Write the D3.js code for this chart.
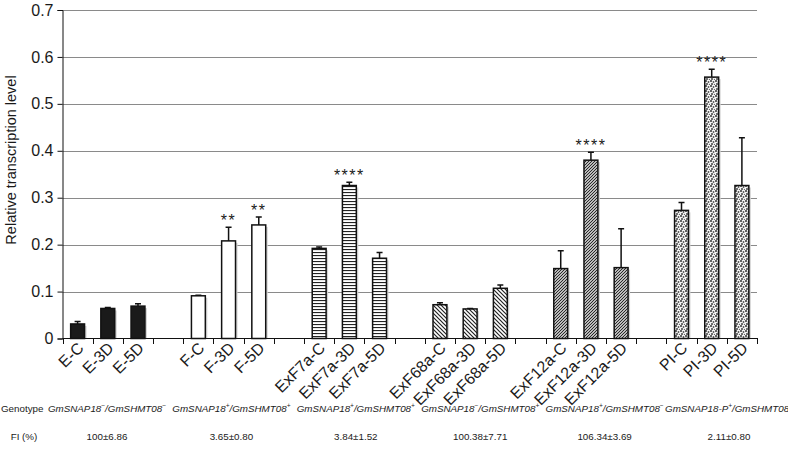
<!DOCTYPE html>
<html>
<head>
<meta charset="utf-8">
<script src="https://cdn.jsdelivr.net/npm/d3@7"></script>
<style>
  body { margin: 0; background: #fff; }
  svg text { font-family: "Liberation Sans", Arial, sans-serif; fill: #1a1a1a; }
</style>
</head>
<body>
<svg id="chart" width="788" height="467"></svg>
<script>
// categorias no eixo x ("" = espaço entre grupos)
const categorias = ["E-C","E-3D","E-5D","",
                    "F-C","F-3D","F-5D","",
                    "ExF7a-C","ExF7a-3D","ExF7a-5D","",
                    "ExF68a-C","ExF68a-3D","ExF68a-5D","",
                    "ExF12a-C","ExF12a-3D","ExF12a-5D","",
                    "PI-C","PI-3D","PI-5D"];
const valores = [0.031,0.064,0.069,null,
                 0.091,0.208,0.242,null,
                 0.192,0.326,0.171,null,
                 0.072,0.063,0.107,null,
                 0.149,0.380,0.151,null,
                 0.273,0.557,0.326];
const erros = [0.005,0.002,0.005,null,
               0.001,0.029,0.017,null,
               0.003,0.007,0.012,null,
               0.004,0.001,0.007,null,
               0.038,0.017,0.083,null,
               0.017,0.017,0.102];
const signif = ["","","","",
                "","**","**","",
                "","****","","",
                "","","","",
                "","****","","",
                "","****",""];
const yTicks = [0,0.1,0.2,0.3,0.4,0.5,0.6,0.7];

// tabela de baixo
const genotipos = [["GmSNAP18","−","GmSHMT08","−"],
                   ["GmSNAP18","+","GmSHMT08","+"],
                   ["GmSNAP18","+","GmSHMT08","+"],
                   ["GmSNAP18","−","GmSHMT08","+"],
                   ["GmSNAP18","+","GmSHMT08","−"],
                   ["GmSNAP18-P","+","GmSHMT08","−"]];
const fi = ["100±6.86","3.65±0.80","3.84±1.52","100.38±7.71","106.34±3.69","2.11±0.80"];

const svg = d3.select("#chart");
const defs = svg.append("defs");

// padrões de preenchimento de cada grupo
function padrao(id, w, h, desenha) {
  const p = defs.append("pattern").attr("id", id)
    .attr("patternUnits", "userSpaceOnUse").attr("width", w).attr("height", h);
  p.append("rect").attr("width", w).attr("height", h).attr("fill", "#fff");
  desenha(p);
}
padrao("horiz", 4, 3, p => p.append("rect").attr("width", 4).attr("height", 1.1).attr("fill", "#222"));
padrao("back", 4, 4, p => p.append("path").attr("d", "M-1,-1 L5,5 M3,-1 L5,1 M-1,3 L1,5")
  .attr("stroke", "#222").attr("stroke-width", 1.2));
padrao("fwd", 3, 3, p => p.append("path").attr("d", "M-1,4 L4,-1 M-1,1 L1,-1 M2,4 L4,2")
  .attr("stroke", "#222").attr("stroke-width", 1.2));
padrao("dots", 5, 5, p => {
  p.select("rect").attr("fill", "#f4f4f4");
  p.append("circle").attr("cx", 1).attr("cy", 1).attr("r", 1).attr("fill", "#333");
  p.append("circle").attr("cx", 3.5).attr("cy", 2).attr("r", 0.9).attr("fill", "#555");
  p.append("circle").attr("cx", 2).attr("cy", 4).attr("r", 1).attr("fill", "#444");
  p.append("circle").attr("cx", 4.5).attr("cy", 4.5).attr("r", 0.7).attr("fill", "#666");
});
const preench = ["#1a1a1a", "#fff", "url(#horiz)", "url(#back)", "url(#fwd)", "url(#dots)"];

const y = d3.scaleLinear().domain([0, 0.7]).range([338.5, 10]);
const x = d3.scaleBand().domain(d3.range(categorias.length)).range([62.5, 757]);
const larguraBarra = x.bandwidth() * 0.46;

// grade
svg.append("g").selectAll("line")
  .data(yTicks.filter(d => d > 0))
  .join("line")
    .attr("x1", 62.5).attr("x2", 757)
    .attr("y1", d => Math.round(y(d)) + 0.5).attr("y2", d => Math.round(y(d)) + 0.5)
    .attr("stroke", "#8a8a8a").attr("stroke-width", 1);

// eixo y
const eixoY = svg.append("g").attr("transform", "translate(62.5,0)")
  .call(d3.axisLeft(y).tickValues(yTicks).tickSize(5).tickPadding(4)
    .tickFormat(d => d === 0 ? "0" : d3.format(".1f")(d)));
eixoY.select(".domain").attr("stroke", "#111");
eixoY.selectAll(".tick line").attr("stroke", "#111");
eixoY.selectAll(".tick text").attr("font-size", 16).attr("font-family", null).attr("fill", "#1a1a1a");

svg.append("text")
  .attr("transform", "translate(16,160) rotate(-90)")
  .attr("text-anchor", "middle").attr("font-size", 14.5)
  .text("Relative transcription level");

// barras
const dados = categorias.map((c, i) => ({i, c, v: valores[i], e: erros[i], s: signif[i]}))
  .filter(d => d.v != null);
const g = svg.append("g");
const bx = d => x(d.i) + (x.bandwidth() - larguraBarra) / 2;

g.selectAll("rect.sombra").data(dados).join("rect").attr("class", "sombra")
  .attr("x", d => bx(d) + 2).attr("y", d => y(d.v) + 2)
  .attr("width", larguraBarra).attr("height", d => y(0) - y(d.v) - 2)
  .attr("fill", "#d4d4d4");

g.selectAll("rect.barra").data(dados).join("rect").attr("class", "barra")
  .attr("x", bx).attr("y", d => y(d.v))
  .attr("width", larguraBarra).attr("height", d => y(0) - y(d.v))
  .attr("fill", d => preench[Math.floor(d.i / 4)])
  .attr("stroke", "#111").attr("stroke-width", 1.5);

// barras de erro (só para cima)
const cx = d => x(d.i) + x.bandwidth() / 2;
g.selectAll("path.erro").data(dados).join("path").attr("class", "erro")
  .attr("d", d => `M${cx(d)},${y(d.v)} V${y(d.v + d.e)} M${cx(d) - 3},${y(d.v + d.e)} H${cx(d) + 3}`)
  .attr("stroke", "#111").attr("stroke-width", 1.5).attr("fill", "none");

g.selectAll("text.sig").data(dados.filter(d => d.s)).join("text").attr("class", "sig")
  .attr("x", cx).attr("y", d => y(d.v + d.e) - 1)
  .attr("text-anchor", "middle").attr("font-size", 16).attr("letter-spacing", 1.5)
  .text(d => d.s);

// eixo x
svg.append("line").attr("x1", 62.5).attr("x2", 758).attr("y1", 338.5).attr("y2", 338.5)
  .attr("stroke", "#111").attr("stroke-width", 1.2);
svg.append("g").selectAll("line")
  .data(d3.range(categorias.length + 1))
  .join("line")
    .attr("x1", i => Math.round(x.range()[0] + i * x.step()) + 0.5)
    .attr("x2", i => Math.round(x.range()[0] + i * x.step()) + 0.5)
    .attr("y1", 338.5).attr("y2", 344)
    .attr("stroke", "#111");

svg.append("g").selectAll("text")
  .data(categorias.map((c, i) => ({c, i})).filter(d => d.c))
  .join("text")
    .attr("transform", d => `translate(${x(d.i) + x.bandwidth() / 2 + 7},349) rotate(-45)`)
    .attr("text-anchor", "end").attr("font-size", 16)
    .text(d => d.c);

// tabela genótipo / FI
const xt = d3.scaleLinear().domain([0, 5]).range([107, 729]);
svg.append("text").attr("x", 1).attr("y", 412).attr("font-size", 9.8).attr("fill", "#333").text("Genotype");
svg.append("text").attr("x", 24).attr("y", 440).attr("font-size", 9.8).attr("fill", "#333")
  .attr("text-anchor", "middle").text("FI (%)");

const gen = svg.append("g").selectAll("text").data(genotipos).join("text")
  .attr("x", (d, i) => xt(i)).attr("y", 412)
  .attr("text-anchor", "middle").attr("font-size", 9.8).attr("font-style", "italic").attr("fill", "#333");
gen.each(function(d) {
  const t = d3.select(this);
  t.append("tspan").text(d[0]);
  t.append("tspan").attr("dy", -4).attr("font-size", 6.5).text(d[1]);
  t.append("tspan").attr("dy", 4).text("/" + d[2]);
  t.append("tspan").attr("dy", -4).attr("font-size", 6.5).text(d[3]);
});

svg.append("g").selectAll("text").data(fi).join("text")
  .attr("x", (d, i) => xt(i)).attr("y", 440)
  .attr("text-anchor", "middle").attr("font-size", 9.8).attr("fill", "#333")
  .text(d => d);
</script>
</body>
</html>
